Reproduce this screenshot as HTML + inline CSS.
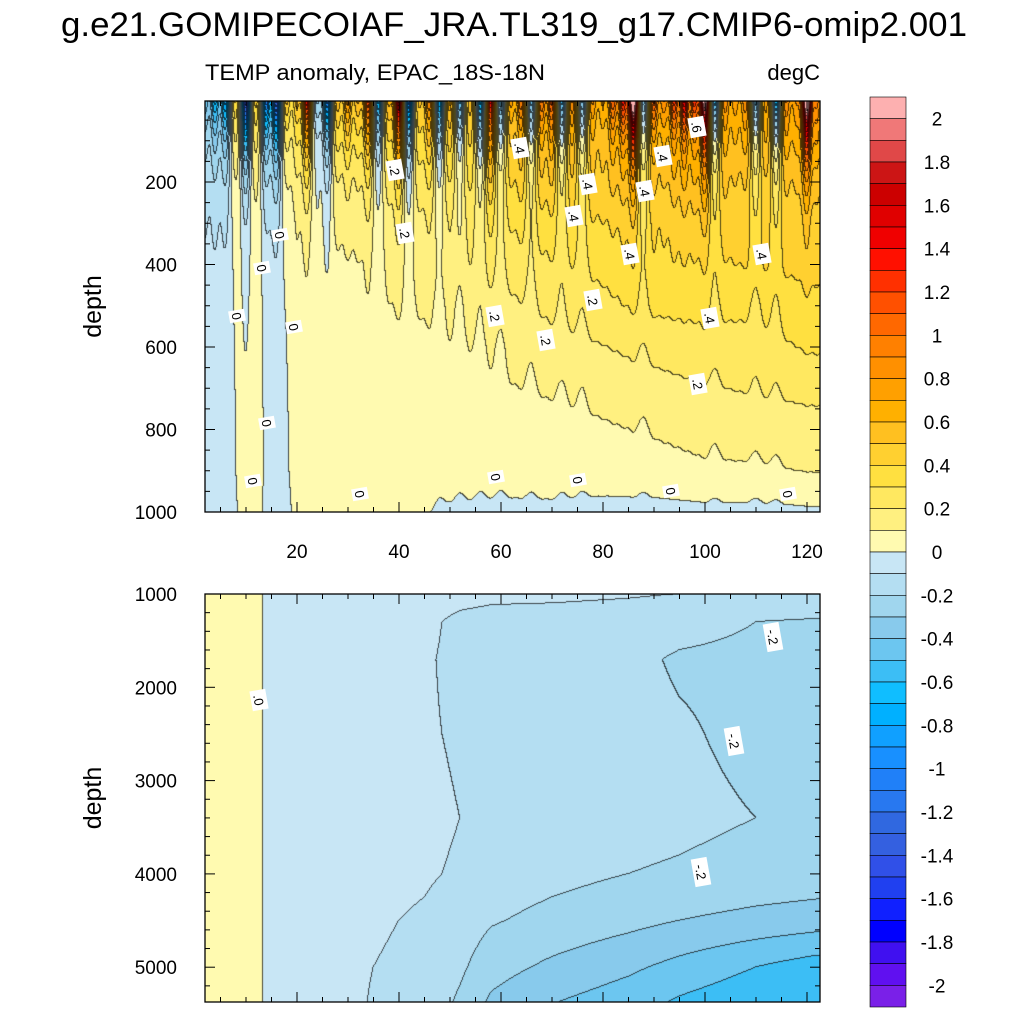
<!DOCTYPE html>
<html><head><meta charset="utf-8">
<style>
html,body{margin:0;padding:0;background:#fff;}
body{width:1024px;height:1024px;position:relative;overflow:hidden;font-family:"Liberation Sans",sans-serif;}
canvas{position:absolute;left:0;top:0;}
svg{position:absolute;left:0;top:0;}
</style></head>
<body>
<canvas id="cv" width="1024" height="1024"></canvas>
<svg id="sv" width="1024" height="1024"></svg>
<script>
// ---- data ----
const levelsMin = -2.0, levelStep = 0.1;
const colors = ["#7A20E8","#6010F0","#4010F0","#0000FF","#1020FF","#2040F0","#3050E8","#3460E0","#3068E0","#2878F0","#2080F8","#1890FF","#10A0FF","#00B0FF","#10BEFF","#3CBEF5","#6CC6F0","#88CAEC","#A0D6EE","#B4DEF2","#C8E6F5",
"#FFFAB0","#FFF080","#FFE860","#FFE040","#FFD030","#FFC020","#FFB000","#FFA000","#FF9000","#FF8000","#FF6800","#FF5000","#FF3000","#FF1000","#F00000","#E00000","#CC0000","#CC1515","#E04848","#F07878","#FDB0B0"];
const cbLabels = ["2","1.8","1.6","1.4","1.2","1","0.8","0.6","0.4","0.2","0","-0.2","-0.4","-0.6","-0.8","-1","-1.2","-1.4","-1.6","-1.8","-2"];
const topDepths = [5,100,200,300,400,500,600,700,800,900,1000];
const topXs = [2,7,9,13,15,18,20,30,40,50,60,70,80,90,100,110,122];
const topGrid = [
[-0.05,-0.04,0.03,0.03,-0.04,-0.03,0.1,0.15,0.2,0.25,0.3,0.35,0.4,0.45,0.45,0.45,0.5],
[-0.05,-0.04,0.05,0.04,-0.04,-0.02,0.1,0.15,0.2,0.25,0.3,0.35,0.4,0.4,0.45,0.45,0.5],
[-0.05,-0.04,0.03,0.03,-0.04,-0.02,0.08,0.1,0.15,0.2,0.3,0.35,0.4,0.4,0.45,0.4,0.45],
[-0.05,-0.04,0.03,0.02,-0.04,-0.02,0.05,0.08,0.12,0.15,0.25,0.3,0.35,0.35,0.4,0.4,0.4],
[-0.05,-0.04,0.02,0.02,-0.04,-0.02,0.05,0.05,0.1,0.15,0.2,0.25,0.3,0.35,0.35,0.38,0.4],
[-0.05,-0.04,0.02,0.02,-0.04,-0.02,0.05,0.05,0.08,0.1,0.15,0.2,0.25,0.3,0.3,0.3,0.35],
[-0.05,-0.04,0.02,0.02,-0.04,-0.02,0.04,0.05,0.05,0.08,0.1,0.15,0.18,0.22,0.25,0.25,0.3],
[-0.05,-0.04,0.02,0.02,-0.04,-0.02,0.04,0.05,0.05,0.05,0.08,0.1,0.12,0.15,0.18,0.2,0.22],
[-0.05,-0.04,0.02,0.02,-0.04,-0.02,0.03,0.05,0.05,0.05,0.05,0.06,0.08,0.1,0.12,0.14,0.15],
[-0.05,-0.04,0.02,0.02,-0.04,-0.02,0.03,0.04,0.05,0.04,0.04,0.05,0.05,0.06,0.08,0.08,0.1],
[-0.05,-0.04,0.01,0.01,-0.04,-0.03,0.02,0.0,0.02,-0.02,-0.03,-0.03,-0.04,-0.04,-0.03,-0.03,-0.02]];
const streakX0 = 2, streakDx = 2;
const streaks = [-0.3,-0.5,-0.6,0.3,-1.2,0.3,-0.8,-1.0,0.4,0.3,1.0,-0.3,-0.9,0.3,0.5,0.3,0.8,-0.7,0.3,1.2,-1.0,0.2,0.5,-0.8,0.3,-0.6,0.2,-0.8,0.9,-0.6,0.3,0.5,-0.6,0.5,0.6,-0.7,0.4,-0.6,0.3,0.2,0.5,0.7,1.6,-0.6,0.5,0.3,0.6,0.8,0.6,1.4,-0.8,0.3,0.2,0.3,-0.7,0.2,-0.9,0.3,0.2,1.5,0.3];
const botDepths = [1000,1300,1700,2500,3400,4000,4500,5000,5400];
const botXs = [2,8,13,16,30,45,52,58,70,85,95,110,122];
const botGrid = [
[0.03,0.02,0.005,-0.05,-0.05,-0.06,-0.07,-0.08,-0.08,-0.09,-0.1,-0.12,-0.12],
[0.03,0.03,0.01,-0.06,-0.07,-0.08,-0.12,-0.13,-0.14,-0.15,-0.17,-0.2,-0.21],
[0.03,0.03,0.01,-0.06,-0.07,-0.09,-0.12,-0.14,-0.15,-0.18,-0.21,-0.22,-0.22],
[0.03,0.03,0.01,-0.06,-0.07,-0.09,-0.11,-0.14,-0.15,-0.17,-0.19,-0.22,-0.23],
[0.03,0.03,0.01,-0.06,-0.07,-0.08,-0.1,-0.13,-0.15,-0.17,-0.18,-0.2,-0.21],
[0.03,0.03,0.01,-0.06,-0.07,-0.09,-0.11,-0.14,-0.17,-0.2,-0.21,-0.23,-0.24],
[0.03,0.03,0.01,-0.06,-0.08,-0.11,-0.14,-0.19,-0.23,-0.27,-0.3,-0.33,-0.35],
[0.03,0.03,0.01,-0.06,-0.09,-0.12,-0.18,-0.26,-0.32,-0.38,-0.43,-0.5,-0.55],
[0.03,0.03,0.01,-0.07,-0.09,-0.13,-0.22,-0.32,-0.4,-0.46,-0.52,-0.58,-0.6]];
const xTicks = [20,40,60,80,100,120];
const topYTicks = [200,400,600,800,1000];
const botYTicks = [1000,2000,3000,4000,5000];
const topLabels = [["0",280,235],["0",262,268],["0",237,316],["0",294,327],["0",267,423],["0",253,481],["0",360,494],["0",496,477],["0",578,480],["0",671,491],["0",788,494],
[".2",395,170],[".2",405,233],[".2",495,316],[".2",546,340],[".2",593,300],[".2",698,384],
[".4",520,148],[".4",663,156],[".4",588,184],[".4",645,191],[".4",574,216],[".4",630,254],[".4",762,254],[".4",710,318],[".6",697,127]];
const botLabels = [[".0",259,700],["-.2",773,637],["-.2",734,741],["-.2",701,872]];

// ---- axes ----
const P1={l:205,t:101,r:820,b:512}, P2={l:205,t:594,r:820,b:1002};
const xPix = x => 195 + (x)*5.1;
const yTop = d => 99.5 + d*0.4125;
const yBot = d => 594 + (d-1000)*0.0933;
const xFromPix = p => (p-195)/5.1;
const dTop = p => (p-99.5)/0.4125;
const dBot = p => (p-594)/0.0933+1000;

function interp(arr, v){
  if(v<=arr[0]) return [0,0];
  for(let i=0;i<arr.length-1;i++){ if(v<=arr[i+1]) return [i,(v-arr[i])/(arr[i+1]-arr[i])]; }
  return [arr.length-2,1];
}
function bil(grid, rows, cols, d, x){
  const [i,fi]=interp(rows,d),[j,fj]=interp(cols,x);
  const a=grid[i][j],b=grid[i][j+1],c=grid[i+1][j],e=grid[i+1][j+1];
  return (a*(1-fj)+b*fj)*(1-fi)+(c*(1-fj)+e*fj)*fi;
}
function topVal(x,d){
  let v=bil(topGrid,topDepths,topXs,d,x);
  const k=Math.round((x-streakX0)/streakDx);
  for(let s=Math.max(0,k-2);s<=Math.min(streaks.length-1,k+2);s++){
    const dx=x-(streakX0+s*streakDx);
    v+=streaks[s]*Math.exp(-dx*dx/0.8)*Math.exp(-d/110)*1.3;
    v+=0.07*Math.sign(streaks[s])*Math.exp(-dx*dx/1.2)*Math.exp(-d/400);
  }
  return v;
}
function botVal(x,d){ return bil(botGrid,botDepths,botXs,d,x); }
function idx(v){ let i=Math.floor((v-levelsMin)/levelStep)+1; return Math.max(0,Math.min(colors.length-1,i)); }
function hex(c){return [parseInt(c.substr(1,2),16),parseInt(c.substr(3,2),16),parseInt(c.substr(5,2),16)];}
const rgb=colors.map(hex);

const cv=document.getElementById('cv'), ctx=cv.getContext('2d');
function drawPanel(P,fn,dfun){
  const W=P.r-P.l,H=P.b-P.t;
  const I=[];
  for(let y=0;y<H;y++){const row=[];const d=dfun(P.t+y+0.5);for(let x=0;x<W;x++){row.push(idx(fn(xFromPix(P.l+x+0.5),d)));}I.push(row);}
  const img=ctx.createImageData(W,H);
  for(let y=0;y<H;y++)for(let x=0;x<W;x++){
    const k=I[y][x];let c=rgb[k];
    const line=(x+1<W&&I[y][x+1]!==k)||(y+1<H&&I[y+1][x]!==k);
    const o=(y*W+x)*4;
    const f=line?0.3:1;
    img.data[o]=c[0]*f;img.data[o+1]=c[1]*f;img.data[o+2]=c[2]*f;
    img.data[o+3]=255;
  }
  ctx.putImageData(img,P.l,P.t);
}
drawPanel(P1,topVal,dTop);
drawPanel(P2,botVal,dBot);

// ---- svg overlay ----
const NS="http://www.w3.org/2000/svg", sv=document.getElementById('sv');
function el(tag,attrs,text){const e=document.createElementNS(NS,tag);for(const k in attrs)e.setAttribute(k,attrs[k]);if(text!==undefined)e.textContent=text;sv.appendChild(e);return e;}
let t=el('text',{x:514,y:36,'text-anchor':'middle','font-size':34,textLength:906,lengthAdjust:'spacingAndGlyphs'},'g.e21.GOMIPECOIAF_JRA.TL319_g17.CMIP6-omip2.001');


t=el('text',{x:205,y:80,'font-size':22,textLength:340,lengthAdjust:'spacingAndGlyphs'},'TEMP anomaly, EPAC_18S-18N');


t=el('text',{x:820,y:80,'font-size':22,'text-anchor':'end'},'degC');



function frame(P,yfun,yticks,minorStep,dmin,dmax,xlabels,name){
  const r=el('rect',{x:P.l,y:P.t,width:P.r-P.l,height:P.b-P.t,fill:'none',stroke:'#000','stroke-width':1.3});
  
  
  for(let x=5;x<=120;x+=5){
    const px=xPix(x);const L=(x%20===0)?10:5;
    el('line',{x1:px,x2:px,y1:P.b,y2:P.b-L,stroke:'#000'});
    el('line',{x1:px,x2:px,y1:P.t,y2:P.t+L,stroke:'#000'});
  }
  if(xlabels){xTicks.forEach(v=>{const tl=el('text',{x:xPix(v),y:P.b+46,'text-anchor':'middle','font-size':19},String(v));
    
    });}
  for(let d=Math.ceil(dmin/minorStep)*minorStep;d<=dmax;d+=minorStep){
    const py=yfun(d);if(py<P.t||py>P.b)continue;
    const major=yticks.includes(d);const L=major?10:5;
    el('line',{x1:P.l,x2:P.l+L,y1:py,y2:py,stroke:'#000'});
    el('line',{x1:P.r,x2:P.r-L,y1:py,y2:py,stroke:'#000'});
  }
  yticks.forEach(v=>{const tl=el('text',{x:P.l-28,y:yfun(v)+7,'text-anchor':'end','font-size':19},String(v));
    
    });
  const my=(P.t+P.b)/2;
  const yl=el('text',{x:101,y:my,'text-anchor':'middle','font-size':25,transform:'rotate(-90 101 '+my+')'},'depth');
  
  
}
frame(P1,yTop,topYTicks,50,0,1000,true,'top-panel');
frame(P2,yBot,botYTicks,200,1000,5400,false,'bottom-panel');

function labels(list,name){list.forEach(l=>{
  const w=l[0].length*8+4;
  const g=document.createElementNS(NS,'g');g.setAttribute('transform','translate('+l[1]+','+l[2]+') rotate(80)');
  
  
  sv.appendChild(g);
  const r=document.createElementNS(NS,'rect');r.setAttribute('x',-w/2);r.setAttribute('y',-8);r.setAttribute('width',w);r.setAttribute('height',16);r.setAttribute('fill','#fff');g.appendChild(r);
  const tx=document.createElementNS(NS,'text');tx.setAttribute('x',0);tx.setAttribute('y',5);tx.setAttribute('text-anchor','middle');tx.setAttribute('font-size',13);tx.textContent=l[0];g.appendChild(tx);
});}
labels(topLabels,'contour-label');
labels(botLabels,'contour-label');

// colorbar
const cbTop=97,cbBot=1007,cbX=870,cbW=36,n=colors.length,bh=(cbBot-cbTop)/n;
for(let i=0;i<n;i++){
  const r=el('rect',{x:cbX,y:cbTop+i*bh,width:cbW,height:bh,fill:colors[n-1-i],stroke:'#000','stroke-width':0.6});
  
  
}
cbLabels.forEach((s,i)=>{
  const tl=el('text',{x:937,y:cbTop+bh*(1+2*i)+7,'text-anchor':'middle','font-size':19},s);
  
  
});
</script>
</body></html>
